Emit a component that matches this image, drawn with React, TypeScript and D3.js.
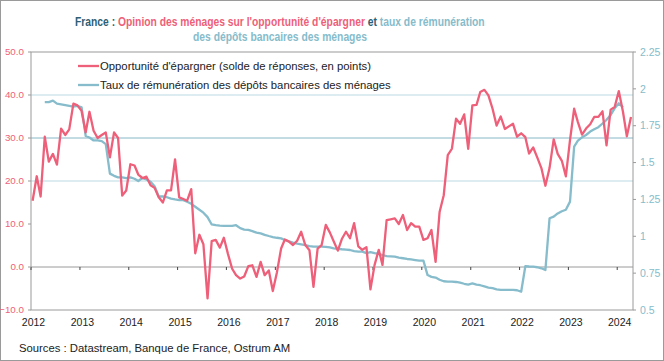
import * as d3 from "d3";
import React, { useLayoutEffect, useRef, useState } from "react";

// Opinion des ménages sur l'opportunité d'épargner (solde, points), mensuel depuis janv. 2012
const opportunite = [
  15.4, 21.1, 16.4, 30.3, 24.5, 26.3, 23.8, 32.2, 30.7, 32.0, 38.0, 37.6,
  36.3, 31.3, 36.1, 31.7, 30.0, 30.7, 31.3, 25.5, 31.3, 30.0, 16.6, 17.8,
  23.9, 23.6, 21.5, 20.7, 21.0, 19.0, 18.4, 16.2, 15.0, 17.8, 17.8, 25.0,
  16.2, 15.8, 15.4, 18.1, 3.2, 7.5, 5.3, -7.3, 6.0, 6.3, 4.5, 6.8,
  3.0, -0.4, -1.9, -2.7, -2.2, 0.2, 0.4, -2.3, 1.2, -1.9, -0.8, -5.6,
  -1.2, 4.3, 6.4, 5.9, 5.1, 6.1, 8.2, 5.1, 3.9, -4.6, 4.3, 5.1,
  9.8, 8.0, 6.0, 3.8, 6.5, 8.2, 6.7, 10.2, 4.8, 4.0, 4.6, -5.2,
  0.5, 4.0, 0.5, 10.9, 11.1, 11.3, 10.0, 12.1, 8.6, 10.2, 9.4, 9.4,
  6.3, 6.7, 8.6, 1.2, 12.8, 16.7, 26.0, 27.5, 34.5, 33.3, 35.5, 27.5,
  37.6, 37.7, 40.7, 41.2, 39.9, 36.8, 32.9, 35.0, 32.1, 32.7, 33.3, 30.3,
  31.1, 30.2, 26.4, 27.8, 25.5, 23.0, 18.9, 23.0, 29.7, 26.3, 24.7, 21.1,
  29.5, 36.8, 33.7, 30.8, 32.2, 33.2, 34.9, 34.9, 36.2, 28.3, 36.6, 37.2,
  40.9, 36.1, 30.4, 34.9,
];

// Taux de rémunération des dépôts bancaires (%), mensuel depuis avr. 2012
const tauxStart = 3;
const taux = [
  1.91, 1.91, 1.92, 1.9, 1.895, 1.89, 1.885, 1.88, 1.885,
  1.875, 1.68, 1.67, 1.65, 1.65, 1.645, 1.625, 1.425, 1.41, 1.4, 1.4, 1.395,
  1.4, 1.39, 1.375, 1.395, 1.385, 1.37, 1.34, 1.27, 1.27, 1.265, 1.255, 1.25,
  1.246, 1.245, 1.235, 1.22, 1.2, 1.18, 1.16, 1.13, 1.08, 1.075, 1.072, 1.07,
  1.07, 1.07, 1.075, 1.055, 1.045, 1.043, 1.035, 1.025, 1.02, 1.01, 1.002, 0.995,
  0.99, 0.986, 0.975, 0.965, 0.957, 0.95, 0.945, 0.94, 0.934, 0.93, 0.93, 0.93,
  0.928, 0.925, 0.918, 0.915, 0.912, 0.91, 0.907, 0.9, 0.896, 0.896, 0.886, 0.893,
  0.886, 0.88, 0.873, 0.866, 0.864, 0.862, 0.855, 0.851, 0.846, 0.843, 0.839, 0.835,
  0.835, 0.737, 0.725, 0.72, 0.705, 0.695, 0.692, 0.692, 0.69, 0.685, 0.678, 0.672,
  0.68, 0.672, 0.668, 0.66, 0.652, 0.648, 0.64, 0.636, 0.636, 0.636, 0.636, 0.634,
  0.624, 0.797, 0.795, 0.794, 0.79, 0.783, 0.771, 1.122, 1.133, 1.155, 1.17, 1.18,
  1.235, 1.608, 1.649, 1.671, 1.687, 1.71, 1.726, 1.74, 1.765, 1.79, 1.823, 1.868,
  1.902, 1.875,
];

const leftTicks = [-10, 0, 10, 20, 30, 40, 50];
const rightTicks = [0.5, 0.75, 1, 1.25, 1.5, 1.75, 2, 2.25];
const gridValues = [20, 30, 40];
const years = d3.range(2012, 2025);

const PINK = "#ee5f79";
const BLUE = "#86bccb";
const TEAL = "#2e6075";
const FONT = "'Liberation Sans', Arial, sans-serif";

const monthDate = (i: number) => new Date(2012, i, 13);

export default function App() {
  const width = 664;
  const height = 361;
  const m = { left: 31, right: 633, top: 52, bottom: 310 };

  // title is set in a condensed face in the original: squeeze it horizontally
  const t1 = useRef<SVGTextElement>(null);
  const t2 = useRef<SVGTextElement>(null);
  const [sx, setSx] = useState([1, 1]);
  useLayoutEffect(() => {
    const w1 = t1.current ? t1.current.getComputedTextLength() : 410;
    const w2 = t2.current ? t2.current.getComputedTextLength() : 174;
    setSx([410 / w1, 174 / w2]);
  }, []);

  const x = d3
    .scaleTime()
    .domain([new Date(2012, 0, 1), new Date(2024, 3, 28)])
    .range([m.left, m.right]);
  const yL = d3.scaleLinear().domain([-10, 50]).range([m.bottom, m.top]);
  const yR = d3.scaleLinear().domain([0.5, 2.25]).range([m.bottom, m.top]);

  const pinkLine = d3
    .line<number>()
    .x((_, i) => x(monthDate(i)))
    .y((d) => yL(d))(opportunite);

  const blueLine = d3
    .line<number>()
    .x((_, i) => x(monthDate(i + tauxStart)))
    .y((d) => yR(d))(taux);

  return (
    <svg
      width={width}
      height={height}
      style={{ position: "absolute", left: 0, top: 0, background: "#fff" }}
      fontFamily={FONT}
    >
      <rect x={0.5} y={0.5} width={width - 1} height={height - 1} fill="#fff" stroke="#9a9a9a" />

      {/* Title */}
      <g transform={`translate(75,25.5) scale(${sx[0]},1)`}>
        <text ref={t1} x={0} y={0} fontSize={13.5} fontWeight="bold">
          <tspan fill={TEAL}>France : </tspan>
          <tspan fill={PINK}>Opinion des ménages sur l'opportunité d'épargner</tspan>
          <tspan fill={TEAL}> et </tspan>
          <tspan fill={BLUE}>taux de rémunération</tspan>
        </text>
      </g>
      <g transform={`translate(193,40.5) scale(${sx[1]},1)`}>
        <text ref={t2} x={0} y={0} fontSize={13.5} fontWeight="bold" fill={BLUE}>
          des dépôts bancaires des ménages
        </text>
      </g>

      {/* Gridlines */}
      {gridValues.map((v) => (
        <line
          key={v}
          x1={m.left}
          x2={m.right}
          y1={yL(v)}
          y2={yL(v)}
          stroke={v === 30 ? "#86b8c6" : "#b9d9e2"}
          strokeWidth={1}
        />
      ))}

      {/* Plot frame */}
      <rect
        x={m.left}
        y={m.top}
        width={m.right - m.left}
        height={m.bottom - m.top}
        fill="none"
        stroke="#9a9a9a"
      />
      <line x1={m.left} x2={m.right} y1={yL(0)} y2={yL(0)} stroke="#9a9a9a" />

      {/* X ticks and labels */}
      {years.map((yr) => {
        const xx = x(new Date(yr, 0, 1));
        return (
          <g key={yr}>
            <line x1={xx} x2={xx} y1={yL(0)} y2={yL(0) + 3} stroke="#444" />
            <text x={xx + 2.5} y={326} fontSize={10.5} textAnchor="middle" fill="#222">
              {yr}
            </text>
          </g>
        );
      })}

      {/* Left axis */}
      {leftTicks.map((v) => (
        <g key={v}>
          <line x1={m.left - 3} x2={m.left} y1={yL(v)} y2={yL(v)} stroke="#9a9a9a" />
          <text x={24} y={yL(v)} dy="0.35em" fontSize={9.8} textAnchor="end" fill={PINK}>
            {d3.format(".1f")(v)}
          </text>
        </g>
      ))}

      {/* Right axis */}
      {rightTicks.map((v) => (
        <g key={v}>
          <line x1={m.right} x2={m.right + 3} y1={yR(v)} y2={yR(v)} stroke="#9a9a9a" />
          <text x={640} y={yR(v)} dy="0.35em" fontSize={10.5} fill={BLUE}>
            {String(v)}
          </text>
        </g>
      ))}

      {/* Series */}
      <path d={blueLine ?? ""} fill="none" stroke={BLUE} strokeWidth={2.3} strokeLinejoin="round" />
      <path d={pinkLine ?? ""} fill="none" stroke={PINK} strokeWidth={2.3} strokeLinejoin="round" />

      {/* Legend */}
      <line x1={78} x2={99} y1={66} y2={66} stroke={PINK} strokeWidth={2.3} />
      <text x={100} y={66} dy="0.35em" fontSize={11.3} fill="#222">
        Opportunité d'épargner (solde de réponses, en points)
      </text>
      <line x1={78} x2={99} y1={85} y2={85} stroke={BLUE} strokeWidth={2.3} />
      <text x={100} y={85} dy="0.35em" fontSize={11.3} fill="#222">
        Taux de rémunération des dépôts bancaires des ménages
      </text>

      {/* Source */}
      <text x={19} y={351.5} fontSize={11.3} fill="#222">
        Sources : Datastream, Banque de France, Ostrum AM
      </text>
    </svg>
  );
}
